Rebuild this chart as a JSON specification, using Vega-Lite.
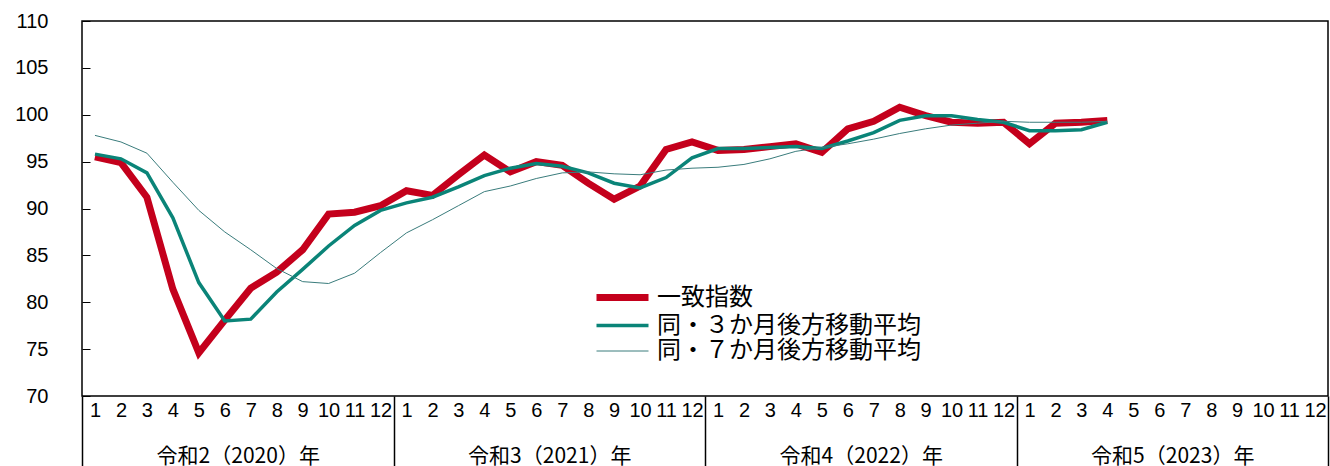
{
  "$schema": "https://vega.github.io/schema/vega-lite/v6.json",
  "autosize": "none",
  "width": 1246,
  "height": 375,
  "padding": {"left": 82, "top": 21, "right": 2, "bottom": 70},
  "background": "white",
  "config": {
    "view": {"stroke": "black", "strokeWidth": 1.5},
    "font": "Liberation Sans"
  },
  "datasets": {
    "series": [
      {"t": 1, "一致指数": 95.5, "同・３か月後方移動平均": 95.8, "同・７か月後方移動平均": 97.8},
      {"t": 2, "一致指数": 94.9, "同・３か月後方移動平均": 95.3, "同・７か月後方移動平均": 97.1},
      {"t": 3, "一致指数": 91.2, "同・３か月後方移動平均": 93.8, "同・７か月後方移動平均": 95.9},
      {"t": 4, "一致指数": 81.4, "同・３か月後方移動平均": 89.0, "同・７か月後方移動平均": 92.8},
      {"t": 5, "一致指数": 74.6, "同・３か月後方移動平均": 82.1, "同・７か月後方移動平均": 89.8},
      {"t": 6, "一致指数": 78.1, "同・３か月後方移動平均": 78.0, "同・７か月後方移動平均": 87.5},
      {"t": 7, "一致指数": 81.5, "同・３か月後方移動平均": 78.2, "同・７か月後方移動平均": 85.6},
      {"t": 8, "一致指数": 83.2, "同・３か月後方移動平均": 81.1, "同・７か月後方移動平均": 83.6},
      {"t": 9, "一致指数": 85.6, "同・３か月後方移動平均": 83.5, "同・７か月後方移動平均": 82.2},
      {"t": 10, "一致指数": 89.4, "同・３か月後方移動平均": 86.0, "同・７か月後方移動平均": 82.0},
      {"t": 11, "一致指数": 89.6, "同・３か月後方移動平均": 88.2, "同・７か月後方移動平均": 83.1},
      {"t": 12, "一致指数": 90.3, "同・３か月後方移動平均": 89.8, "同・７か月後方移動平均": 85.3},
      {"t": 13, "一致指数": 91.9, "同・３か月後方移動平均": 90.6, "同・７か月後方移動平均": 87.4},
      {"t": 14, "一致指数": 91.4, "同・３か月後方移動平均": 91.2, "同・７か月後方移動平均": 88.8},
      {"t": 15, "一致指数": 93.6, "同・３か月後方移動平均": 92.3, "同・７か月後方移動平均": 90.3},
      {"t": 16, "一致指数": 95.7, "同・３か月後方移動平均": 93.5, "同・７か月後方移動平均": 91.8},
      {"t": 17, "一致指数": 93.9, "同・３か月後方移動平均": 94.3, "同・７か月後方移動平均": 92.4},
      {"t": 18, "一致指数": 95.0, "同・３か月後方移動平均": 94.8, "同・７か月後方移動平均": 93.2},
      {"t": 19, "一致指数": 94.6, "同・３か月後方移動平均": 94.5, "同・７か月後方移動平均": 93.8},
      {"t": 20, "一致指数": 92.7, "同・３か月後方移動平均": 93.8, "同・７か月後方移動平均": 93.9},
      {"t": 21, "一致指数": 91.0, "同・３か月後方移動平均": 92.7, "同・７か月後方移動平均": 93.7},
      {"t": 22, "一致指数": 92.4, "同・３か月後方移動平均": 92.2, "同・７か月後方移動平均": 93.6},
      {"t": 23, "一致指数": 96.3, "同・３か月後方移動平均": 93.3, "同・７か月後方移動平均": 94.1},
      {"t": 24, "一致指数": 97.1, "同・３か月後方移動平均": 95.4, "同・７か月後方移動平均": 94.3},
      {"t": 25, "一致指数": 96.2, "同・３か月後方移動平均": 96.4, "同・７か月後方移動平均": 94.4},
      {"t": 26, "一致指数": 96.3, "同・３か月後方移動平均": 96.4, "同・７か月後方移動平均": 94.7},
      {"t": 27, "一致指数": 96.6, "同・３か月後方移動平均": 96.5, "同・７か月後方移動平均": 95.3},
      {"t": 28, "一致指数": 96.9, "同・３か月後方移動平均": 96.6, "同・７か月後方移動平均": 96.1},
      {"t": 29, "一致指数": 96.0, "同・３か月後方移動平均": 96.4, "同・７か月後方移動平均": 96.5},
      {"t": 30, "一致指数": 98.5, "同・３か月後方移動平均": 97.2, "同・７か月後方移動平均": 96.9},
      {"t": 31, "一致指数": 99.3, "同・３か月後方移動平均": 98.1, "同・７か月後方移動平均": 97.4},
      {"t": 32, "一致指数": 100.8, "同・３か月後方移動平均": 99.4, "同・７か月後方移動平均": 98.0},
      {"t": 33, "一致指数": 99.9, "同・３か月後方移動平均": 99.9, "同・７か月後方移動平均": 98.5},
      {"t": 34, "一致指数": 99.2, "同・３か月後方移動平均": 99.9, "同・７か月後方移動平均": 98.9},
      {"t": 35, "一致指数": 99.1, "同・３か月後方移動平均": 99.5, "同・７か月後方移動平均": 99.1},
      {"t": 36, "一致指数": 99.2, "同・３か月後方移動平均": 99.2, "同・７か月後方移動平均": 99.3},
      {"t": 37, "一致指数": 96.9, "同・３か月後方移動平均": 98.3, "同・７か月後方移動平均": 99.2},
      {"t": 38, "一致指数": 99.1, "同・３か月後方移動平均": 98.3, "同・７か月後方移動平均": 99.2},
      {"t": 39, "一致指数": 99.2, "同・３か月後方移動平均": 98.4, "同・７か月後方移動平均": 99.2},
      {"t": 40, "一致指数": 99.4, "同・３か月後方移動平均": 99.2, "同・７か月後方移動平均": 99.3}
    ],
    "years": [
      {"year": "令和2（2020）年"},
      {"year": "令和3（2021）年"},
      {"year": "令和4（2022）年"},
      {"year": "令和5（2023）年"}
    ]
  },
  "layer": [
    {
      "data": {"name": "series"},
      "transform": [
        {"fold": ["一致指数", "同・３か月後方移動平均", "同・７か月後方移動平均"], "as": ["series", "value"]}
      ],
      "mark": {"type": "line", "strokeJoin": "miter", "strokeCap": "butt"},
      "encoding": {
        "x": {
          "field": "t",
          "type": "ordinal",
          "scale": {"type": "point", "padding": 0.5, "domain": [1,2,3,4,5,6,7,8,9,10,11,12,13,14,15,16,17,18,19,20,21,22,23,24,25,26,27,28,29,30,31,32,33,34,35,36,37,38,39,40,41,42,43,44,45,46,47,48]},
          "axis": {
            "title": null,
            "orient": "bottom",
            "domain": false,
            "ticks": false,
            "labelAngle": 0,
            "labelPadding": 4,
            "labelFontSize": 20,
            "labelColor": "black",
            "labelBaseline": "top",
            "labelExpr": "((datum.value - 1) % 12) + 1",
            "labelOverlap": false
          }
        },
        "y": {
          "field": "value",
          "type": "quantitative",
          "scale": {"domain": [70, 110], "zero": false, "nice": false},
          "axis": {
            "title": null,
            "values": [70, 75, 80, 85, 90, 95, 100, 105, 110],
            "grid": false,
            "domain": false,
            "tickSize": -8,
            "tickColor": "black",
            "labelPadding": 42,
            "labelFontSize": 20,
            "labelColor": "black"
          }
        },
        "color": {
          "field": "series",
          "type": "nominal",
          "scale": {
            "domain": ["一致指数", "同・３か月後方移動平均", "同・７か月後方移動平均"],
            "range": ["#c4001c", "#0a8478", "#3a7c7c"]
          },
          "legend": {
            "title": null,
            "orient": "none",
            "legendX": 527,
            "legendY": 263,
            "symbolType": "M-2.6,0H2.6",
            "symbolSize": 400,
            "labelFontSize": 24,
            "labelFont": "Noto Sans CJK JP",
            "labelColor": "black",
            "labelLimit": 500,
            "labelOffset": 21,
            "rowPadding": 1.5,
            "padding": 0
          }
        },
        "strokeWidth": {
          "field": "series",
          "type": "nominal",
          "scale": {
            "type": "ordinal",
            "domain": ["一致指数", "同・３か月後方移動平均", "同・７か月後方移動平均"],
            "range": [7, 3.5, 1]
          },
          "legend": {
            "title": null,
            "orient": "none",
            "legendX": 527,
            "legendY": 263,
            "symbolType": "M-2.6,0H2.6",
            "symbolSize": 400,
            "labelFontSize": 24,
            "labelFont": "Noto Sans CJK JP",
            "labelColor": "black",
            "labelLimit": 500,
            "labelOffset": 21,
            "rowPadding": 1.5,
            "padding": 0
          }
        }
      }
    },
    {
      "data": {"name": "years"},
      "mark": {"type": "point", "opacity": 0},
      "encoding": {
        "x": {
          "field": "year",
          "type": "nominal",
          "sort": null,
          "scale": {"type": "band", "paddingInner": 0, "paddingOuter": 0},
          "axis": {
            "title": null,
            "orient": "bottom",
            "domain": false,
            "tickBand": "extent",
            "tickSize": 70,
            "tickColor": "black",
            "tickWidth": 1.5,
            "labelPadding": -21,
            "labelBaseline": "top",
            "labelAngle": 0,
            "labelFontSize": 21,
            "labelFont": "Noto Sans CJK JP",
            "labelColor": "black"
          }
        }
      }
    }
  ],
  "resolve": {"scale": {"x": "independent"}, "axis": {"x": "independent"}}
}
